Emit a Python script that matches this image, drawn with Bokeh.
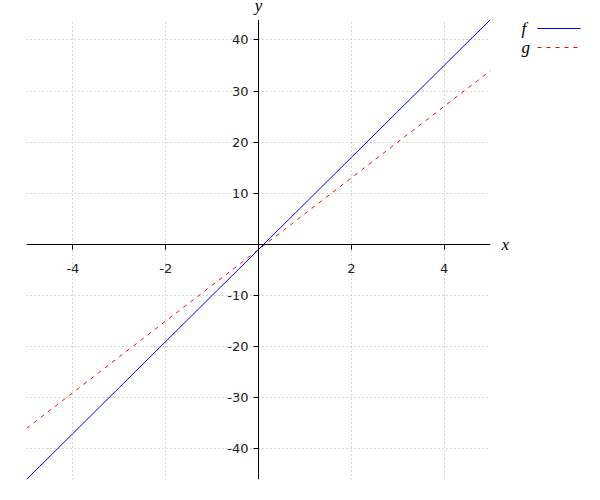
from bokeh.plotting import figure
from bokeh.layouts import row
from bokeh.models import Range1d, FixedTicker, Label, PrintfTickFormatter
from bokeh.core.properties import value
from bokeh.embed import file_html
from bokeh.resources import INLINE

# data
x_vals = [-5, -4, -3, -2, -1, 0, 1, 2, 3, 4, 5]
f_vals = [-46, -37, -28, -19, -10, -1, 8, 17, 26, 35, 44]
g_vals = [-36, -29, -22, -15, -8, -1, 6, 13, 20, 27, 34]
x_ticks = [-4, -2, 2, 4]
y_ticks = [-40, -30, -20, -10, 10, 20, 30, 40]
series_names = ["f", "g"]
series_colors = ["#0000ff", "#ff0000"]
series_dash = ["solid", "4 5"]

X0, X1, Y0, Y1 = -5, 5, -46, 44

p = figure(width=515, height=489, output_backend="svg", toolbar_location=None,
           x_range=Range1d(X0, X1), y_range=Range1d(Y0, Y1),
           min_border_left=26, min_border_right=25, min_border_top=19, min_border_bottom=10)
p.outline_line_color = None
p.background_fill_color = "white"
p.border_fill_color = "white"

for ax in (p.xaxis[0], p.yaxis[0]):
    ax.fixed_location = 0
    ax.axis_line_color = "black"
    ax.major_tick_line_color = "black"
    ax.major_tick_in = 0
    ax.major_tick_out = 5
    ax.minor_tick_line_color = None
    ax.major_label_text_font = "DejaVu Sans"
    ax.major_label_text_font_size = "13px"
    ax.major_label_text_color = "#222222"
    ax.formatter = PrintfTickFormatter(format="%d")
p.xaxis[0].ticker = FixedTicker(ticks=x_ticks)
p.yaxis[0].ticker = FixedTicker(ticks=y_ticks)
p.xaxis[0].major_label_standoff = 15
p.yaxis[0].major_label_standoff = 5

for gr in (p.xgrid[0], p.ygrid[0]):
    gr.grid_line_color = "#b0b0b0"
    gr.grid_line_dash = "1 3"
    gr.grid_line_width = 1
p.xgrid[0].ticker = FixedTicker(ticks=x_ticks)
p.ygrid[0].ticker = FixedTicker(ticks=y_ticks)

p.line(x_vals, f_vals, line_color=series_colors[0], line_width=1, line_dash=series_dash[0])
p.line(x_vals, g_vals, line_color=series_colors[1], line_width=1, line_dash=series_dash[1])

p.add_layout(Label(x=X1, y=0, x_offset=11, text="x", text_font="Liberation Serif", text_font_style="italic",
                   text_font_size="17px", text_baseline="middle", text_color="black"), "right")
p.add_layout(Label(x=0, y=Y1, y_offset=14, text="y", text_font="Liberation Serif", text_font_style="italic",
                   text_font_size="17px", text_align="center", text_baseline="alphabetic",
                   text_color="black"), "above")

# legend panel: same borders as the main plot, pixel-like coordinate space (y downwards)
lg = figure(width=75, height=489, output_backend="svg", toolbar_location=None,
            x_axis_location=None, y_axis_location=None,
            x_range=Range1d(0, 75), y_range=Range1d(479, 19),
            min_border_left=0, min_border_right=0, min_border_top=19, min_border_bottom=10)
lg.grid.visible = False
lg.outline_line_color = None
lg.background_fill_color = "white"
lg.border_fill_color = "white"
row_y = [28, 47]
for name, color, dash, yy in zip(series_names, series_colors, series_dash, row_y):
    lg.text(x=[6], y=[yy], text=[name], text_font=value("Liberation Serif"), text_font_style="italic",
            text_font_size="17px", text_baseline="middle", text_color="black")
    lg.line(x=[22, 65], y=[yy, yy], line_color=color, line_width=1, line_dash=dash)

layout = row(p, lg, spacing=0)
open("out.html", "w").write(file_html(layout, INLINE))
